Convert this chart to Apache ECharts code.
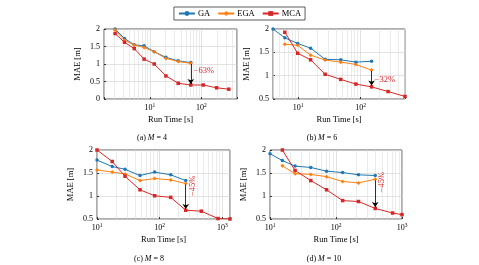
<!doctype html>
<html lang="en">
<head>
<meta charset="UTF-8" />
<title>MAE vs run time</title>
<style>
  html, body { margin: 0; padding: 0; background: #fff; }
  #chart { width: 479px; height: 265px; }
</style>
</head>
<body>
<div id="chart"></div>
<script src="https://cdn.jsdelivr.net/npm/echarts@6/dist/echarts.min.js"></script>
<script>
// run times [s] and MAE [m]
// (a) M = 4
const timeA = [2.1, 3.2, 4.95, 7.7, 12.1, 20.4, 35.4, 62, 108, 197, 340]
const gaA = [2.0, 1.73, 1.55, 1.52, 1.35, 1.19, 1.09, 1.04]
const egaA = [1.97, 1.68, 1.54, 1.47, 1.35, 1.16, 1.07, 1.02]
const mcaA = [1.87, 1.62, 1.44, 1.14, 1.0, 0.66, 0.45, 0.40, 0.40, 0.32, 0.28]

// (b) M = 6
const timeB = [3.94, 6.1, 9.8, 15.8, 27, 48, 84, 150, 276, 515]
const gaB = [2.0, 1.81, 1.69, 1.59, 1.35, 1.34, 1.29, 1.31]
const egaB = [null, 1.675, 1.65, 1.44, 1.335, 1.29, 1.24, 1.12]
const mcaB = [null, 1.93, 1.48, 1.34, 1.03, 0.92, 0.82, 0.76, 0.66, 0.555]

// (c) M = 8
const timeC = [10, 17.5, 28, 48.5, 83, 150, 260, 460, 850, 1320]
const gaC = [1.78, 1.64, 1.58, 1.445, 1.52, 1.46, 1.335]
const egaC = [1.567, 1.52, 1.48, 1.335, 1.38, 1.35, 1.27]
const mcaC = [2.0, 1.75, 1.43, 1.135, 1.005, 0.97, 0.69, 0.67, 0.51, 0.5]

// (d) M = 10
const timeD = [10, 15.4, 24, 41.5, 72, 126, 219, 393, 720, 1000]
const gaD = [1.92, 1.77, 1.65, 1.62, 1.54, 1.51, 1.46, 1.445]
const egaD = [null, 1.655, 1.485, 1.47, 1.42, 1.315, 1.285, 1.365]
const mcaD = [null, 2.0, 1.555, 1.335, 1.135, 0.9, 0.88, 0.73, 0.63, 0.595]

// annotations: [run time, from, to, text, label y]
const notes = [
  [62, 1.0, 0.43, '−63%', 0.8],
  [150, 1.1, 0.79, '−32%', 0.92],
  [260, 1.25, 0.72, '−45%', 1.22],
  [393, 1.34, 0.76, '−45%', 1.3]
]
const captions = ['(a) {i|M} = 4', '(b) {i|M} = 6', '(c) {i|M} = 8', '(d) {i|M} = 10']

const FONT = 'Liberation Serif'
const BLUE = '#1f77b4', ORANGE = '#ff7f0e', RED = '#d62728'

const panels = [
  { t: timeA, ga: gaA, ega: egaA, mca: mcaA, grid: [104, 29, 133, 70], x: [1.28, 490], y: [0, 2], cap: [152, 138], rot: false },
  { t: timeB, ga: gaB, ega: egaB, mca: mcaB, grid: [273, 29, 132, 70], x: [3.94, 515], y: [0.5, 2], cap: [322, 138], rot: false },
  { t: timeC, ga: gaC, ega: egaC, mca: mcaC, grid: [97, 150, 133, 69], x: [10, 1320], y: [0.5, 2], cap: [149, 259], rot: true },
  { t: timeD, ga: gaD, ega: egaD, mca: mcaD, grid: [270, 150, 132, 69], x: [10, 1000], y: [0.5, 2], cap: [324, 259], rot: true }
]

function pairs(t, v) {
  const out = []
  v.forEach((y, i) => { if (y != null) out.push([t[i], y]) })
  return out
}

// minor log grid lines 2..9 x 10^k inside the axis range
function minorLines(range) {
  const vals = []
  for (let k = -1; k <= 4; k++) {
    for (let m = 2; m <= 9; m++) {
      const v = m * Math.pow(10, k)
      if (v > range[0] && v < range[1]) vals.push({ xAxis: v })
    }
  }
  return vals
}

const grids = [], xAxes = [], yAxes = [], series = [], graphics = []

panels.forEach((p, i) => {
  grids.push({
    left: p.grid[0], top: p.grid[1], width: p.grid[2], height: p.grid[3],
    show: true, borderColor: '#333', borderWidth: 0.8, backgroundColor: 'transparent'
  })
  xAxes.push({
    type: 'log', logBase: 10, gridIndex: i, min: p.x[0], max: p.x[1],
    name: 'Run Time [s]', nameLocation: 'middle', nameGap: 16,
    nameTextStyle: { fontFamily: FONT, fontSize: 8.5, color: '#000' },
    axisLine: { show: false },
    axisTick: { show: true, inside: true, length: 2, lineStyle: { color: '#333' } },
    splitLine: { show: true, lineStyle: { color: '#cfcfcf', width: 0.6 } },
    axisLabel: {
      fontFamily: FONT, fontSize: 8, color: '#000', margin: 4, lineHeight: 10,
      formatter: v => {
        const e = Math.log10(v), r = Math.round(e)
        return Math.abs(e - r) < 1e-6 ? '10{s|' + r + '}' : ''
      },
      rich: { s: { fontSize: 5.5, fontFamily: FONT, verticalAlign: 'top', lineHeight: 6 } }
    }
  })
  yAxes.push({
    type: 'value', gridIndex: i, min: p.y[0], max: p.y[1], interval: 0.5,
    name: 'MAE [m]', nameLocation: 'middle', nameGap: 22, nameRotate: 90,
    nameTextStyle: { fontFamily: FONT, fontSize: 8.5, color: '#000' },
    axisLine: { show: false },
    axisTick: { show: true, inside: true, length: 2, lineStyle: { color: '#333' } },
    splitLine: { show: true, lineStyle: { color: '#cfcfcf', width: 0.6 } },
    axisLabel: { fontFamily: FONT, fontSize: 8, color: '#000', margin: 4 }
  })

  const base = { type: 'line', xAxisIndex: i, yAxisIndex: i, clip: true, lineStyle: { width: 1 }, animation: false }
  const n = notes[i]
  series.push(Object.assign({}, base, {
    name: 'GA', data: pairs(p.t, p.ga), color: BLUE, symbol: 'circle', symbolSize: 3.5, z: 3,
    markLine: {
      silent: true, symbol: ['none', 'none'], z: 1, animation: false,
      label: { show: false }, lineStyle: { color: '#dedede', width: 0.6, type: 'solid' },
      data: minorLines(p.x)
    }
  }))
  series.push(Object.assign({}, base, {
    name: 'EGA', data: pairs(p.t, p.ega), color: ORANGE, symbol: 'diamond', symbolSize: 4, z: 3,
    markLine: {
      silent: true, symbol: ['none', 'arrow'], symbolSize: 5, z: 6, animation: false,
      label: { show: false }, lineStyle: { color: '#000', width: 0.8, type: 'solid' },
      data: [[{ coord: [n[0], n[1]] }, { coord: [n[0], n[2]] }]]
    }
  }))
  series.push(Object.assign({}, base, {
    name: 'MCA', data: pairs(p.t, p.mca), color: RED, symbol: 'rect', symbolSize: 3.5, z: 4,
    markPoint: {
      silent: true, symbolSize: 0, animation: false,
      label: p.rot
        ? { show: true, formatter: n[3], position: 'inside', offset: [0, 7], rotate: 90, color: RED, fontFamily: FONT, fontSize: 8.5 }
        : { show: true, formatter: n[3], position: 'right', distance: 3, color: RED, fontFamily: FONT, fontSize: 8.5 },
      data: [{ coord: [n[0], n[4]] }]
    }
  }))

  graphics.push({
    type: 'text', x: p.cap[0], y: p.cap[1],
    style: {
      text: captions[i], align: 'center', verticalAlign: 'middle', fill: '#000',
      font: '8px "' + FONT + '"',
      rich: { i: { fontStyle: 'italic', fontFamily: FONT, fontSize: 8 } }
    }
  })
})

const chart = echarts.init(document.getElementById('chart'))
chart.setOption({
  animation: false,
  legend: {
    data: ['GA', 'EGA', 'MCA'], top: 7, left: 'center',
    borderColor: '#333', borderWidth: 0.8, padding: [2, 4],
    itemWidth: 16, itemHeight: 6, itemGap: 7,
    textStyle: { fontFamily: FONT, fontSize: 8.5, color: '#000', padding: [0, 0, 0, -2] }
  },
  grid: grids,
  xAxis: xAxes,
  yAxis: yAxes,
  series: series,
  graphic: graphics
})
</script>
</body>
</html>
